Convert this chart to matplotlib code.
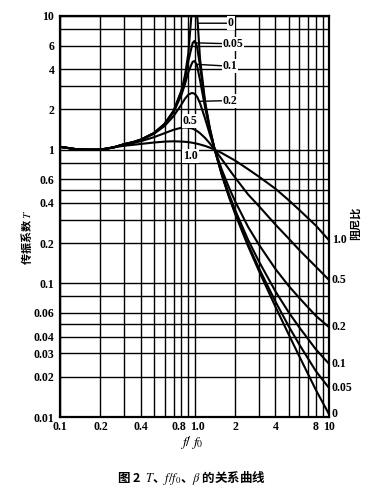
import matplotlib
matplotlib.use('Agg')
import matplotlib.pyplot as plt
import matplotlib.transforms as mtransforms
import numpy as np

plt.rcParams['mathtext.fontset'] = 'stix'

# frequency ratio f/f0
ratio = [0.1, 0.13, 0.16, 0.2, 0.25, 0.3, 0.35, 0.4, 0.5, 0.6, 0.7, 0.8, 0.85,
         0.9, 0.95, 0.97, 1.0, 1.03, 1.05, 1.1, 1.2, 1.3, 1.414, 1.6, 1.8, 2.0,
         2.5, 3.0, 4.0, 5.0, 6.0, 8.0, 10.0]

# transmissibility T, one list per damping ratio
t_000 = [1.05, 1.01, 1.0, 1.0, 1.04, 1.099, 1.14, 1.19, 1.333, 1.563, 1.961, 2.778, 3.604,
         5.263, 10.26, 16.9, np.nan, 16.4, 9.76, 4.76, 2.273, 1.449, 1.0, 0.641, 0.446, 0.333,
         0.19, 0.125, 0.0667, 0.0417, 0.0286, 0.0159, 0.0105]
t_005 = [1.05, 1.01, 1.0, 1.0, 1.04, 1.099, 1.14, 1.19, 1.332, 1.558, 1.947, 2.72, 3.40,
         4.6, 5.8, 6.3, 6.5, 6.2, 5.7, 4.2, 2.208, 1.436, 1.0, 0.646, 0.452, 0.339,
         0.196, 0.131, 0.073, 0.048, 0.035, 0.022, 0.0165]
t_010 = [1.05, 1.01, 1.0, 1.0, 1.04, 1.098, 1.139, 1.189, 1.328, 1.547, 1.909, 2.571, 3.1,
         3.8, 4.35, 4.55, 4.6, 4.4, 4.15, 3.3, 2.052, 1.401, 1.0, 0.659, 0.469, 0.356,
         0.212, 0.147, 0.087, 0.061, 0.047, 0.032, 0.025]
t_020 = [1.05, 1.01, 1.0, 1.0, 1.04, 1.097, 1.136, 1.184, 1.314, 1.505, 1.785, 2.18, 2.407,
         2.58, 2.65, 2.65, 2.62, 2.54, 2.47, 2.22, 1.703, 1.304, 1.0, 0.704, 0.524, 0.4125,
         0.265, 0.196, 0.128, 0.096, 0.078, 0.057, 0.047]
t_050 = [1.05, 1.01, 1.0, 1.0, 1.04, 1.09, 1.12, 1.158, 1.24, 1.329, 1.409, 1.46, 1.465,
         1.46, 1.444, 1.434, 1.414, 1.391, 1.374, 1.327, 1.222, 1.114, 1.0, 0.844, 0.717, 0.62,
         0.463, 0.38, 0.275, 0.217, 0.178, 0.133, 0.106]
t_100 = [1.05, 1.01, 1.0, 1.0, 1.04, 1.07, 1.087, 1.104, 1.131, 1.149, 1.155, 1.15, 1.145,
         1.138, 1.129, 1.125, 1.118, 1.111, 1.106, 1.093, 1.066, 1.036, 1.0, 0.942, 0.881, 0.83,
         0.715, 0.63, 0.51, 0.42, 0.355, 0.27, 0.21]

curves = [t_000, t_005, t_010, t_020, t_050, t_100]
damping = ['0', '0.05', '0.1', '0.2', '0.5', '1.0']

x_major = [0.1, 0.2, 0.4, 0.8, 1.0, 2, 4, 8, 10]
x_labels = ['0.1', '0.2', '0.4', '0.8', '1.0', '2', '4', '8', '10']
x_minor = [0.3, 0.5, 0.6, 0.7, 0.9, 3, 5, 6, 7, 9]
y_major = [0.01, 0.02, 0.03, 0.04, 0.06, 0.1, 0.2, 0.4, 0.6, 1, 2, 4, 6, 10]
y_labels = ['0.01', '0.02', '0.03', '0.04', '0.06', '0.1', '0.2', '0.4', '0.6',
            '1', '2', '4', '6', '10']
y_minor = [0.05, 0.08, 0.3, 0.5, 0.8, 3, 8]

num_font = dict(family='Liberation Serif', weight='bold', size=8.5)

fig = plt.figure(figsize=(3.82, 4.98), dpi=100)
ax = fig.add_axes([60 / 382, 1 - 417 / 498, 269 / 382, 401 / 498])
ax.set_xscale('log')
ax.set_yscale('log')
ax.set_xlim(0.1, 10)
ax.set_ylim(0.01, 10)

ax.set_xticks(x_major)
ax.set_xticklabels(x_labels, fontdict=num_font)
ax.set_xticks(x_minor, minor=True)
ax.set_xticklabels([], minor=True)
ax.set_yticks(y_major)
ax.set_yticklabels(y_labels, fontdict=num_font)
ax.set_yticks(y_minor, minor=True)
ax.set_yticklabels([], minor=True)
ax.tick_params(which='both', length=0)
ax.tick_params(axis='x', pad=3)
ax.tick_params(axis='y', pad=4)
ax.grid(True, which='both', color='black', lw=1.0)
for s in ax.spines.values():
    s.set_linewidth(1.6)

# spread the crowded 0.8 / 1.0 labels a little
for lab in ax.get_xticklabels():
    if lab.get_text() in ('0.8', '1.0'):
        dx = -3 if lab.get_text() == '0.8' else 3
        lab.set_transform(lab.get_transform() +
                          mtransforms.ScaledTranslation(dx / 100, 0, fig.dpi_scale_trans))

for vals in curves:
    ax.plot(ratio, vals, color='black', lw=1.5, zorder=3)

# curve-end labels on the right edge
for vals, name in zip(curves, damping):
    ax.annotate(name, xy=(ratio[-1], vals[-1]), xytext=(2, 0), textcoords='offset points',
                ha='left', va='center', annotation_clip=False, **num_font)

# labels near the resonance peaks
box = dict(fc='white', ec='none', pad=0.8)
peak_labels = [('0', (1.055, 8.83), (1.77, 8.83)),
               ('0.05', (1.0, 6.3), (1.62, 6.19)),
               ('0.1', (1.03, 4.35), (1.62, 4.21)),
               ('0.2', (1.09, 2.3), (1.62, 2.33))]
for name, xy, xyt in peak_labels:
    ax.annotate(name, xy=xy, xytext=xyt, ha='left', va='center', bbox=box, zorder=4,
                arrowprops=dict(arrowstyle='-', color='black', lw=1.0, shrinkA=0, shrinkB=0),
                **num_font)
ax.text(0.82, 1.63, '0.5', ha='left', va='center', bbox=box, zorder=4, **num_font)
ax.text(0.825, 0.9, '1.0', ha='left', va='center', bbox=box, zorder=4, **num_font)

fig.text(27 / 382, 1 - 237 / 498, '传振系数 $T$', rotation=90, ha='center', va='center',
         family='Noto Sans CJK SC', weight='bold', size=8)
fig.text(355 / 382, 1 - 223 / 498, '阻尼比', rotation=90, ha='center', va='center',
         family='Noto Sans CJK SC', weight='bold', size=8)
fig.text(192 / 382, 1 - 442 / 498, '$f/\\ f_0$', ha='center', va='center', size=10)
fig.text(192 / 382, 1 - 478 / 498, '图 2  $T$、$f/f_0$、$\\beta$ 的关系曲线', ha='center',
         va='center', family='Noto Sans CJK SC', weight='bold', size=9)

fig.savefig('out.png', dpi=100)
